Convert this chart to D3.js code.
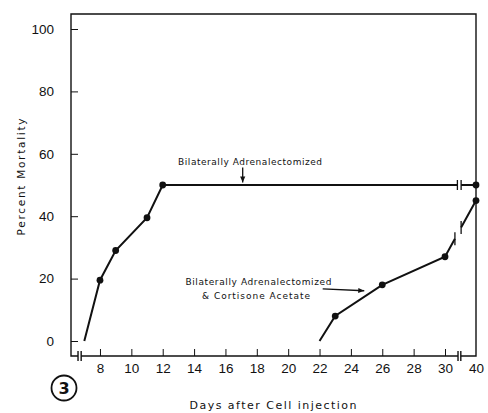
<!DOCTYPE html>
<html lang="en">
<head>
  <meta charset="UTF-8" />
  <title>Percent Mortality vs Days after Cell injection</title>
  <style>
    body { margin: 0; background: #fff; }
    svg { display: block; font-family: "DejaVu Sans", sans-serif; }
    .tick text { font-size: 13.5px; fill: #111; }
  </style>
</head>
<body>
  <svg id="chart"></svg>

  <script src="https://d3js.org/d3.v7.min.js"></script>
  <script>
    // values
    const adrDays = [7, 8, 9, 11, 12, 40];
    const adrMort = [0, 19.5, 29, 39.5, 50, 50];
    const cortDays = [22, 23, 26, 30, 40];
    const cortMort = [0, 8, 18, 27, 45];
    const xTicks = [8, 10, 12, 14, 16, 18, 20, 22, 24, 26, 28, 30, 40];
    const yTicks = [0, 20, 40, 60, 80, 100];

    const W = 488, H = 413;
    const svg = d3.select("#chart").attr("width", W).attr("height", H);

    // broken axis: 7..30 linear, 30..40 squeezed
    const x = d3.scaleLinear().domain([7, 30, 40]).range([84.3, 445, 476]);
    const y = d3.scaleLinear().domain([0, 100]).range([341, 29]);

    const fLeft = 71, fTop = 14, fBottom = 356, fRight = x(40);
    const ink = "#111";

    // frame with axis breaks
    const frame = svg.append("g").attr("stroke", ink).attr("stroke-width", 1.4).attr("fill", "none");
    const bL1 = x(6.6), bL2 = x(6.8), bR1 = x(34.2), bR2 = x(35.1);
    frame.append("path").attr("d",
      `M${bL1},${fBottom}H${fLeft}V${fTop}H${fRight}V${fBottom}H${bR2}`);
    frame.append("path").attr("d", `M${bL2},${fBottom}H${bR1}`);
    [bL1, bL2, bR1, bR2].forEach(bx => {
      frame.append("line").attr("x1", bx).attr("x2", bx)
        .attr("y1", fBottom - 5).attr("y2", fBottom + 5);
    });

    // axes (inward ticks)
    const yAxis = svg.append("g").attr("transform", `translate(${fLeft},0)`)
      .call(d3.axisLeft(y).tickValues(yTicks).tickSize(-7).tickPadding(17)
        .tickFormat(d3.format("d")));
    yAxis.select(".domain").remove();
    yAxis.selectAll(".tick line").attr("stroke", ink).attr("stroke-width", 1);

    const xAxis = svg.append("g").attr("transform", `translate(0,${fBottom})`)
      .call(d3.axisBottom(x).tickValues(xTicks).tickSize(-7).tickPadding(7)
        .tickFormat(d3.format("d")));
    xAxis.select(".domain").remove();
    xAxis.selectAll(".tick line").attr("stroke", ink).attr("stroke-width", 1)
      .filter(d => d === 40).remove();
    svg.selectAll(".tick text").attr("fill", ink);

    // series
    const adr = adrDays.map((d, i) => ({ day: d, m: adrMort[i] }));
    const cort = cortDays.map((d, i) => ({ day: d, m: cortMort[i] }));
    const line = d3.line().x(d => x(d.day)).y(d => y(d.m));

    const series = svg.append("g");
    [adr, cort].forEach(s => {
      series.append("path").datum(s).attr("d", line)
        .attr("fill", "none").attr("stroke", ink).attr("stroke-width", 2);
    });

    // breaks in the last segment of each series
    function lineBreak(s, d1, d2, len) {
      const a = s[s.length - 2], b = s[s.length - 1];
      const at = d => a.m + (b.m - a.m) * (d - a.day) / (b.day - a.day);
      series.append("line")
        .attr("x1", x(d1)).attr("y1", y(at(d1)))
        .attr("x2", x(d2)).attr("y2", y(at(d2)))
        .attr("stroke", "#fff").attr("stroke-width", 5);
      [d1, d2].forEach(d => {
        series.append("line").attr("x1", x(d)).attr("x2", x(d))
          .attr("y1", y(at(d)) - len).attr("y2", y(at(d)) + len)
          .attr("stroke", ink).attr("stroke-width", 1.3);
      });
    }
    lineBreak(adr, 34, 35.2, 5);
    lineBreak(cort, 33.2, 35.2, 6.5);

    series.selectAll(".dot").data(adr.concat(cort).filter(d => d.m > 0))
      .join("circle").attr("class", "dot")
      .attr("cx", d => x(d.day)).attr("cy", d => y(d.m)).attr("r", 3.4)
      .attr("fill", ink);

    // annotations
    const note = svg.append("g").attr("fill", ink).style("font-size", "9px");
    note.append("text").attr("x", x(17.57)).attr("y", y(56.4))
      .attr("text-anchor", "middle").attr("textLength", 144).attr("lengthAdjust", "spacing")
      .text("Bilaterally Adrenalectomized");
    note.append("text").attr("x", x(18.1)).attr("y", y(18))
      .attr("text-anchor", "middle").attr("textLength", 146).attr("lengthAdjust", "spacing")
      .text("Bilaterally Adrenalectomized");
    note.append("text").attr("x", x(17.95)).attr("y", y(13.5))
      .attr("text-anchor", "middle").attr("textLength", 108).attr("lengthAdjust", "spacing")
      .text("& Cortisone Acetate");

    function arrow(x1, y1, x2, y2) {
      const ang = Math.atan2(y2 - y1, x2 - x1), L = 6, Wd = 2.6;
      note.append("line").attr("x1", x1).attr("y1", y1).attr("x2", x2).attr("y2", y2)
        .attr("stroke", ink).attr("stroke-width", 1.3);
      const px = x2 - L * Math.cos(ang), py = y2 - L * Math.sin(ang);
      note.append("path").attr("d",
        `M${x2},${y2}L${px - Wd * Math.sin(ang)},${py + Wd * Math.cos(ang)}` +
        `L${px + Wd * Math.sin(ang)},${py - Wd * Math.cos(ang)}Z`);
    }
    arrow(x(17.1), y(55.6), x(17.1), y(50.8));
    arrow(x(22.2), y(16.7), x(24.85), y(16.1));

    // axis titles
    svg.append("text")
      .attr("transform", `translate(25,177) rotate(-90)`)
      .attr("text-anchor", "middle").attr("textLength", 117).attr("lengthAdjust", "spacing")
      .style("font-size", "10.5px").attr("fill", ink)
      .text("Percent Mortality");
    svg.append("text").attr("x", 273).attr("y", 409)
      .attr("text-anchor", "middle").attr("textLength", 167).attr("lengthAdjust", "spacing")
      .style("font-size", "11px").attr("fill", ink)
      .text("Days after Cell injection");

    // figure number
    svg.append("circle").attr("cx", 64).attr("cy", 388).attr("r", 12.5)
      .attr("fill", "none").attr("stroke", ink).attr("stroke-width", 1.8);
    svg.append("text").attr("x", 64).attr("y", 394).attr("text-anchor", "middle")
      .style("font-size", "16px").style("font-weight", "bold").attr("fill", ink)
      .text("3");
  </script>
</body>
</html>
